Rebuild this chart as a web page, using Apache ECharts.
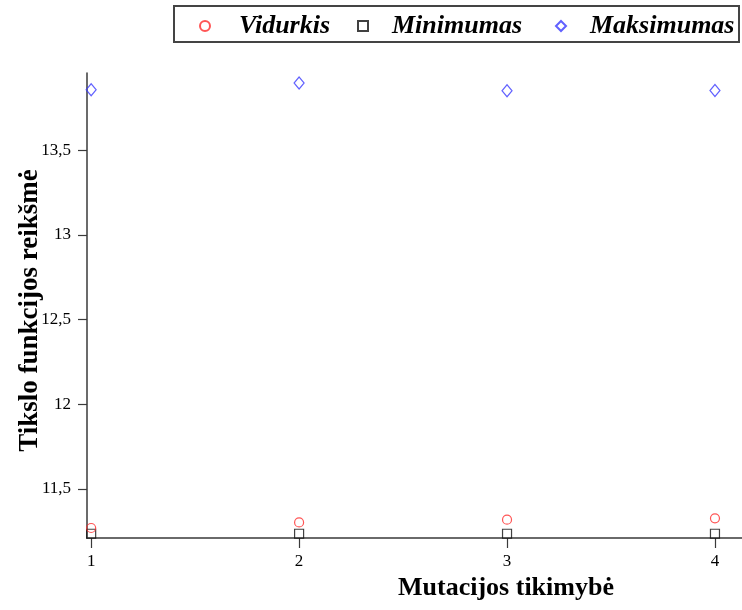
<!DOCTYPE html>
<html>
<head>
<meta charset="utf-8">
<script src="https://cdn.jsdelivr.net/npm/echarts@6/dist/echarts.min.js"></script>
<style>
  html, body { margin: 0; padding: 0; background: #fff; }
  #chart { width: 742px; height: 610px; }
</style>
</head>
<body>
<div id="chart"></div>
<script>
// Mutation probability levels and objective function statistics
const mutationLevels = [1, 2, 3, 4];
const vidurkis = [11.269, 11.302, 11.318, 11.326];
const minimumas = [11.235, 11.235, 11.235, 11.235];
const maksimumas = [13.856, 13.896, 13.85, 13.852];
const yTicks = [11.5, 12, 12.5, 13, 13.5];
const xTicks = [1, 2, 3, 4];

const FONT = '"Liberation Serif", "Times New Roman", serif';
const AXIS_COLOR = '#3a3a3a';

const pairs = (ys) => mutationLevels.map((x, i) => [x, ys[i]]);

const legendBase = {
  top: 12,
  padding: 0,
  itemWidth: 10,
  itemHeight: 10,
  itemGap: 0,
  selectedMode: false
};
const legendText = (padLeft) => ({
  fontFamily: FONT,
  fontSize: 26,
  fontWeight: 'bold',
  fontStyle: 'italic',
  color: '#000',
  padding: [0, 0, 0, padLeft],
  lineHeight: 28
});

const chart = echarts.init(document.getElementById('chart'), null, { renderer: 'canvas' });
chart.setOption({
  animation: false,
  backgroundColor: '#fff',
  grid: { left: 87, right: 0, top: 73, bottom: 72, containLabel: false, outerBoundsMode: 'none' },
  legend: [
    Object.assign({}, legendBase, { left: 199, data: ['Vidurkis'], textStyle: legendText(24) }),
    Object.assign({}, legendBase, { left: 357, data: ['Minimumas'], textStyle: legendText(19) }),
    Object.assign({}, legendBase, { left: 555, data: ['Maksimumas'], textStyle: legendText(19) })
  ],
  graphic: [{
    type: 'rect',
    shape: { x: 174, y: 6, width: 565, height: 36 },
    style: { fill: 'none', stroke: '#444', lineWidth: 2 },
    silent: true
  }],
  xAxis: {
    type: 'value',
    min: 0.98,
    max: 4.13,
    name: 'Mutacijos tikimybė',
    nameLocation: 'middle',
    nameGap: 37,
    nameMoveOverlap: false,
    nameTextStyle: {
      fontFamily: FONT, fontSize: 26, fontWeight: 'bold', color: '#000',
      padding: [0, 0, 0, 183]
    },
    axisLine: { show: true, onZero: false, lineStyle: { color: AXIS_COLOR, width: 1.5 } },
    axisTick: { show: true, length: 10, customValues: xTicks, lineStyle: { color: AXIS_COLOR, width: 1.2 } },
    axisLabel: {
      customValues: xTicks, margin: 15,
      fontFamily: FONT, fontSize: 17, color: '#000',
      formatter: (v) => String(v)
    },
    splitLine: { show: false }
  },
  yAxis: {
    type: 'value',
    min: 11.21,
    max: 13.955,
    name: 'Tikslo funkcijos reikšmė',
    nameLocation: 'middle',
    nameRotate: 90,
    nameGap: 43,
    nameMoveOverlap: false,
    nameTextStyle: {
      fontFamily: FONT, fontSize: 27, fontWeight: 'bold', color: '#000',
      padding: [0, 10, 0, 0]
    },
    axisLine: { show: true, onZero: false, lineStyle: { color: AXIS_COLOR, width: 1.5 } },
    axisTick: { show: true, length: 9, customValues: yTicks, lineStyle: { color: AXIS_COLOR, width: 1.2 } },
    axisLabel: {
      customValues: yTicks, margin: 16,
      fontFamily: FONT, fontSize: 17, color: '#000',
      formatter: (v) => String(v).replace('.', ',')
    },
    splitLine: { show: false }
  },
  series: [
    {
      name: 'Vidurkis',
      type: 'scatter',
      symbol: 'circle',
      symbolSize: 9,
      data: pairs(vidurkis),
      itemStyle: { color: 'rgba(255,255,255,0)', borderColor: '#ff2a2a', borderWidth: 1.2 },
      z: 3
    },
    {
      name: 'Minimumas',
      type: 'scatter',
      symbol: 'rect',
      symbolSize: [9, 9],
      data: pairs(minimumas),
      itemStyle: { color: 'rgba(255,255,255,0)', borderColor: '#111', borderWidth: 1.2 },
      z: 2
    },
    {
      name: 'Maksimumas',
      type: 'scatter',
      symbol: 'diamond',
      symbolSize: [10, 12],
      data: pairs(maksimumas),
      itemStyle: { color: 'rgba(255,255,255,0)', borderColor: '#3a3aff', borderWidth: 1.2 },
      z: 3
    }
  ]
});
</script>
</body>
</html>
